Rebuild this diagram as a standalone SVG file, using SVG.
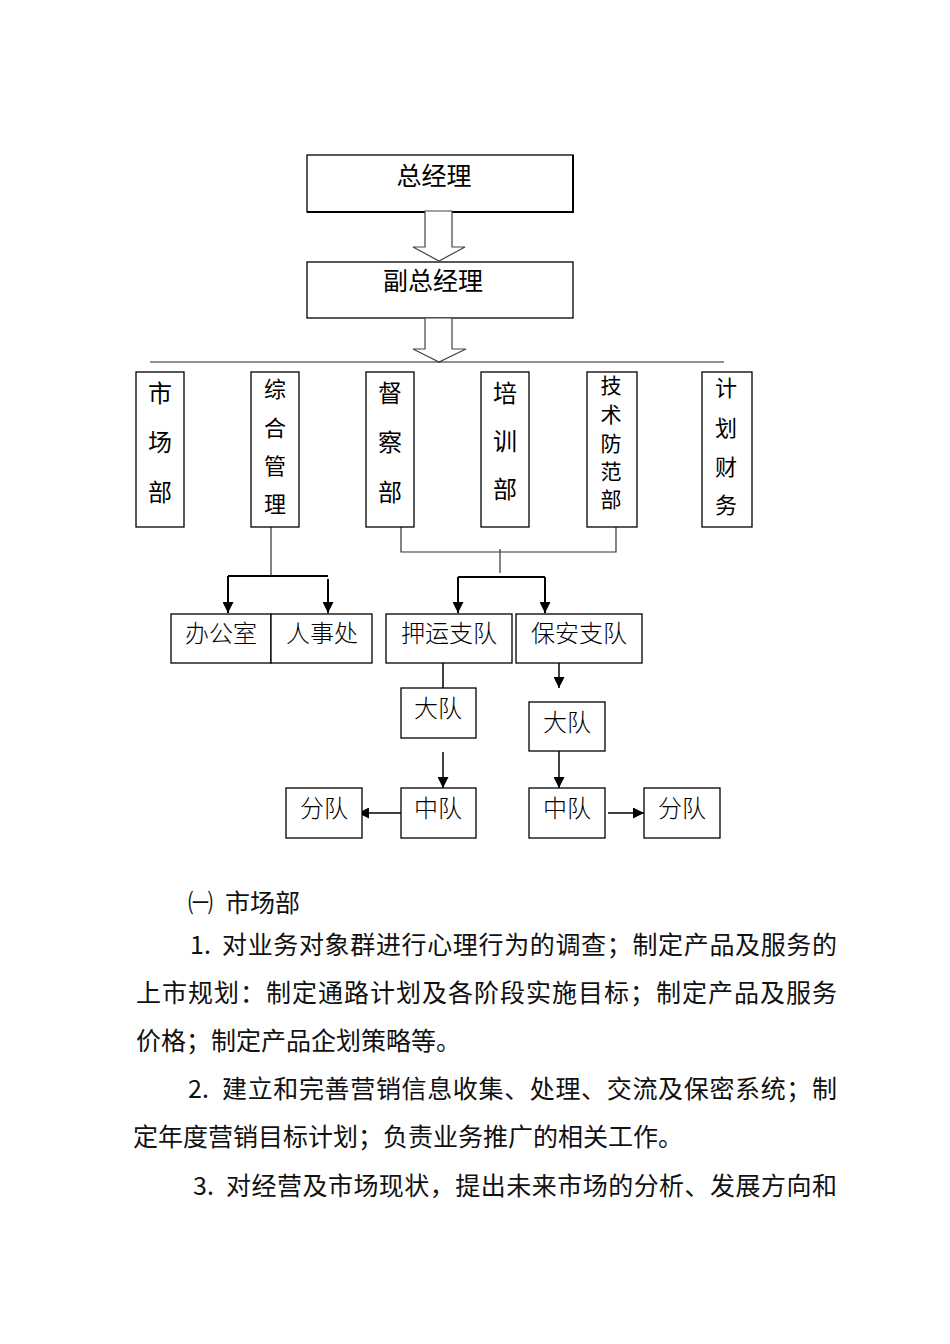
<svg xmlns="http://www.w3.org/2000/svg" width="950" height="1344" viewBox="0 0 950 1344">
<style>
.box{fill:#fff;stroke:#000;stroke-width:1.3}
.blk{fill:#fff;stroke:#444;stroke-width:1.2}
.t{font-family:"Noto Sans CJK SC","Noto Sans",sans-serif;fill:#000;dominant-baseline:central;text-anchor:middle}
.s{font-family:"Noto Sans CJK SC","Noto Sans",sans-serif;font-weight:300;fill:#000;dominant-baseline:central;text-anchor:middle;font-size:24px}
.body{font-family:"Noto Sans CJK SC","Noto Sans",sans-serif;fill:#111;font-size:25px;dominant-baseline:central}
.thin{fill:none;stroke:#333;stroke-width:1.2}
.bold{fill:none;stroke:#000;stroke-width:2}
.med{fill:none;stroke:#000;stroke-width:1.5}
</style>
<defs>
<marker id="arr" viewBox="0 0 10 10" refX="10" refY="5" markerWidth="11" markerHeight="11" markerUnits="userSpaceOnUse" orient="auto">
<path d="M0,0 L10,5 L0,10 z" fill="#000"/>
</marker>
</defs>
<rect width="950" height="1344" fill="#fff"/>

<g id="gm">
<rect class="box" x="307" y="155" width="266" height="57"/>
<path d="M307,212 H573 V155" fill="none" stroke="#000" stroke-width="2"/>
<text class="t" x="434" y="174" font-size="25">总经理</text>
</g>
<g id="dgm">
<rect class="box" x="307" y="262" width="266" height="56"/>
<text class="t" x="433" y="279" font-size="25">副总经理</text>
</g>

<g id="connectors">
<polygon class="blk" points="425,211 452,211 452,247 465,247 439,261 413,247 425,247"/>
<polygon class="blk" points="425,318 452,318 452,349 466,349 439,362 413,349 425,349"/>
<line x1="150" y1="362" x2="724" y2="362" stroke="#222" stroke-width="1.2"/>
<path class="thin" d="M271,527 V576"/>
<path class="bold" d="M228,576 H328"/>
<path class="bold" d="M228,576 V613" marker-end="url(#arr)"/>
<path class="bold" d="M328,579 V613" marker-end="url(#arr)"/>
<path class="thin" d="M401,527 V552 H616 V527"/>
<path class="thin" d="M500,549 V573"/>
<path class="bold" d="M458,577 H545"/>
<path class="bold" d="M458,577 V613" marker-end="url(#arr)"/>
<path class="bold" d="M545,577 V613" marker-end="url(#arr)"/>
<path class="med" d="M443,663 V688"/>
<path class="med" d="M559,663 V688" marker-end="url(#arr)"/>
<path class="med" d="M443,752 V788" marker-end="url(#arr)"/>
<path class="med" d="M559,751 V788" marker-end="url(#arr)"/>
<path class="med" d="M401,813 H358" marker-end="url(#arr)"/>
<path class="med" d="M608,813 H644" marker-end="url(#arr)"/>
</g>

<g id="scb">
<rect class="box" x="136" y="372" width="48" height="155"/>
<text class="t" font-size="24" x="160" y="391">市</text>
<text class="t" font-size="24" x="160" y="440">场</text>
<text class="t" font-size="24" x="160" y="490">部</text>
</g>
<g id="zhgl">
<rect class="box" x="251" y="372" width="48" height="155"/>
<text class="t" font-size="22" x="275" y="387">综</text>
<text class="t" font-size="22" x="275" y="426">合</text>
<text class="t" font-size="22" x="275" y="464">管</text>
<text class="t" font-size="22" x="275" y="502">理</text>
</g>
<g id="dcb">
<rect class="box" x="366" y="372" width="48" height="155"/>
<text class="t" font-size="24" x="390" y="391">督</text>
<text class="t" font-size="24" x="390" y="440">察</text>
<text class="t" font-size="24" x="390" y="490">部</text>
</g>
<g id="pxb">
<rect class="box" x="481" y="372" width="48" height="155"/>
<text class="t" font-size="24" x="505" y="391">培</text>
<text class="t" font-size="24" x="505" y="439">训</text>
<text class="t" font-size="24" x="505" y="487">部</text>
</g>
<g id="jsffb">
<rect class="box" x="587" y="372" width="50" height="155"/>
<text class="t" font-size="21" x="611" y="384">技</text>
<text class="t" font-size="21" x="611" y="413">术</text>
<text class="t" font-size="21" x="611" y="442">防</text>
<text class="t" font-size="21" x="611" y="470">范</text>
<text class="t" font-size="21" x="611" y="498">部</text>
</g>
<g id="jhcw">
<rect class="box" x="702" y="372" width="50" height="155"/>
<text class="t" font-size="22" x="726" y="386">计</text>
<text class="t" font-size="22" x="726" y="426">划</text>
<text class="t" font-size="22" x="726" y="465">财</text>
<text class="t" font-size="22" x="726" y="503">务</text>
</g>

<g id="bgs">
<rect class="box" x="171" y="614" width="100" height="49"/>
<text class="s" x="221" y="631">办公室</text>
</g>
<g id="rsc">
<rect class="box" x="271" y="614" width="101" height="49"/>
<text class="s" x="322" y="631">人事处</text>
</g>
<g id="yyzd">
<rect class="box" x="386" y="614" width="126" height="49"/>
<text class="s" x="449" y="631">押运支队</text>
</g>
<g id="bazd">
<rect class="box" x="516" y="614" width="126" height="49"/>
<text class="s" x="579" y="631">保安支队</text>
</g>
<g id="dd1">
<rect class="box" x="401" y="688" width="75" height="50"/>
<text class="s" x="438" y="706">大队</text>
</g>
<g id="dd2">
<rect class="box" x="529" y="702" width="76" height="49"/>
<text class="s" x="567" y="720">大队</text>
</g>
<g id="zd1">
<rect class="box" x="401" y="788" width="75" height="50"/>
<text class="s" x="438" y="806">中队</text>
</g>
<g id="fd1">
<rect class="box" x="286" y="788" width="76" height="50"/>
<text class="s" x="324" y="806">分队</text>
</g>
<g id="zd2">
<rect class="box" x="529" y="788" width="76" height="50"/>
<text class="s" x="567" y="806">中队</text>
</g>
<g id="fd2">
<rect class="box" x="644" y="788" width="76" height="50"/>
<text class="s" x="682" y="806">分队</text>
</g>

<g id="bodytext">
<text class="body" x="188" y="901" font-size="20">㈠</text>
<text class="body" x="225" y="901">市场部</text>
<text class="body" x="190" y="943">1.</text>
<text class="body" x="222" y="943" textLength="615" lengthAdjust="spacing">对业务对象群进行心理行为的调查；制定产品及服务的</text>
<text class="body" x="136" y="991" textLength="701" lengthAdjust="spacing">上市规划：制定通路计划及各阶段实施目标；制定产品及服务</text>
<text class="body" x="136" y="1039">价格；制定产品企划策略等。</text>
<text class="body" x="188" y="1087">2.</text>
<text class="body" x="222" y="1087" textLength="615" lengthAdjust="spacing">建立和完善营销信息收集、处理、交流及保密系统；制</text>
<text class="body" x="133" y="1135">定年度营销目标计划；负责业务推广的相关工作。</text>
<text class="body" x="193" y="1184">3.</text>
<text class="body" x="226" y="1184" textLength="611" lengthAdjust="spacing">对经营及市场现状，提出未来市场的分析、发展方向和</text>
</g>
</svg>
